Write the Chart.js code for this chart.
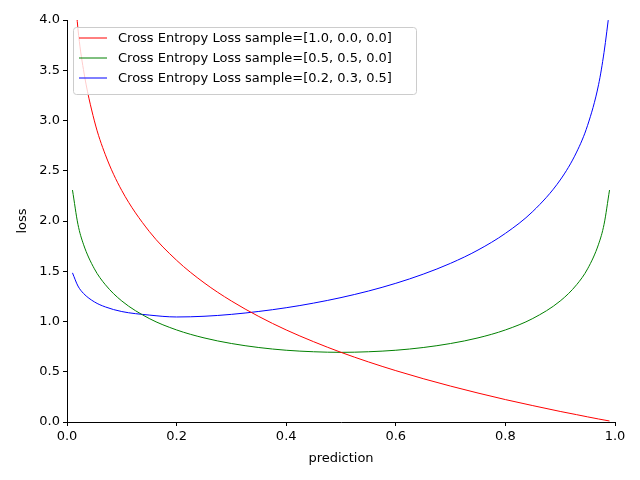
<!DOCTYPE html>
<html><head><script src="https://cdn.jsdelivr.net/npm/chart.js@4"></script>
<style>html,body{margin:0;padding:0;background:#fff}</style></head>
<body><div style="width:640px;height:480px"><canvas id="c" width="640" height="480"></canvas></div>
<script>
const predictions=[0.01,0.02,0.03,0.05,0.07,0.1,0.15,0.2,0.25,0.3,0.35,0.4,0.45,0.5,0.55,0.6,0.65,0.7,0.75,0.8,0.85,0.9,0.93,0.95,0.97,0.98,0.99];
const lossA=[4.605,3.912,3.507,2.996,2.659,2.303,1.897,1.609,1.386,1.204,1.050,0.916,0.799,0.693,0.598,0.511,0.431,0.357,0.288,0.223,0.163,0.105,0.073,0.051,0.030,0.020,0.010];
const lossB=[2.308,1.966,1.769,1.524,1.366,1.204,1.030,0.916,0.837,0.781,0.741,0.714,0.699,0.693,0.699,0.714,0.741,0.781,0.837,0.916,1.030,1.204,1.366,1.524,1.769,1.966,2.308];
const lossC=[1.484,1.353,1.280,1.195,1.145,1.099,1.064,1.045,1.052,1.071,1.100,1.137,1.183,1.238,1.303,1.380,1.471,1.579,1.711,1.877,2.095,2.408,2.686,2.952,3.356,3.678,4.10];
const labels=['Cross Entropy Loss sample=[1.0, 0.0, 0.0]','Cross Entropy Loss sample=[0.5, 0.5, 0.0]','Cross Entropy Loss sample=[0.2, 0.3, 0.5]'];
const colors=['#ff0000','#008000','#0000ff'];
const mk=(arr,i)=>({label:labels[i],data:predictions.map((x,k)=>({x,y:arr[k]})),borderColor:colors[i],borderWidth:1,pointRadius:0,fill:false,cubicInterpolationMode:'monotone'});
const legendPlugin={id:'lg',afterDraw(ch){const c=ch.ctx;const x0=73,y0=27,w=343,h=67;c.save();
c.fillStyle='rgba(255,255,255,0.8)';c.strokeStyle='#ccc';c.lineWidth=1;
c.beginPath();c.roundRect(x0+.5,y0+.5,w,h,3);c.fill();c.stroke();
c.font='13px "DejaVu Sans"';c.textBaseline='middle';
labels.forEach((l,i)=>{const y=y0+11+i*20;c.strokeStyle=colors[i];c.beginPath();c.moveTo(x0+6,y);c.lineTo(x0+34,y);c.stroke();c.fillStyle='#000';c.fillText(l,x0+45,y+1);});c.restore();}};
const font={family:'DejaVu Sans',size:13};
new Chart(document.getElementById('c'),{type:'line',
data:{datasets:[mk(lossA,0),mk(lossB,1),mk(lossC,2)]},
options:{responsive:false,animation:false,layout:{padding:{left:11,top:20,right:25,bottom:10}},
plugins:{legend:{display:false},tooltip:{enabled:false}},
scales:{
x:{type:'linear',min:0,max:1,afterFit:s=>{s.height=48;},
 ticks:{stepSize:0.2,color:'#000',font,callback:v=>v.toFixed(1),maxRotation:0},
 grid:{drawOnChartArea:false,tickLength:4,color:'#000'},border:{color:'#000'},
 title:{display:true,text:'prediction',color:'#000',font,padding:{top:0}}},
y:{min:0,max:4,afterFit:s=>{s.width=56;},
 ticks:{stepSize:0.5,color:'#000',font,callback:v=>v.toFixed(1)},
 grid:{drawOnChartArea:false,tickLength:4,color:'#000'},border:{color:'#000'},
 title:{display:true,text:'loss',color:'#000',font}}}},
plugins:[legendPlugin]});
</script></body></html>
